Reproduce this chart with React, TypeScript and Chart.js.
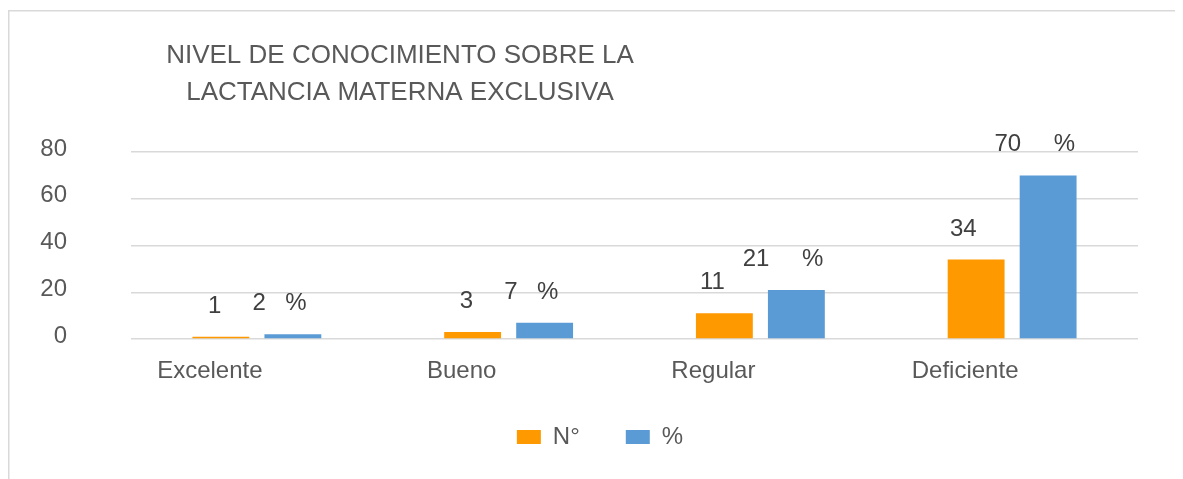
import React, { useEffect, useRef } from 'react';
import { Chart, registerables } from 'chart.js';

Chart.register(...registerables);

const categories = ['Excelente', 'Bueno', 'Regular', 'Deficiente'];
const countValues = [1, 3, 11, 34];
const percentValues = [2, 7, 21, 70];
const seriesNames = ['N°', '%'];
const seriesColors = ['#FF9900', '#5B9BD5'];
const titleLines = ['NIVEL DE CONOCIMIENTO SOBRE LA', 'LACTANCIA MATERNA EXCLUSIVA'];
const yMin = 0;
const yMax = 80;
const yStep = 20;

const FONT = '"Liberation Sans", Arial, Helvetica, sans-serif';
const TEXT_GRAY = '#595959';
const LABEL_DARK = '#404040';
const GRID = '#d9d9d9';

const framePlugin = {
  id: 'frame',
  beforeDraw(chart: any) {
    const ctx = chart.ctx;
    ctx.save();
    ctx.strokeStyle = GRID;
    ctx.lineWidth = 1.5;
    ctx.strokeRect(0.75, 2.75, chart.width + 50, chart.height + 50);
    ctx.restore();
  },
};

const titlePlugin = {
  id: 'customTitle',
  afterDraw(chart: any) {
    const ctx = chart.ctx;
    ctx.save();
    ctx.font = `26px ${FONT}`;
    ctx.fillStyle = TEXT_GRAY;
    ctx.textAlign = 'center';
    ctx.textBaseline = 'alphabetic';
    const cx = 392;
    ctx.fillText(titleLines[0], cx, 54.5);
    ctx.fillText(titleLines[1], cx, 92);
    ctx.restore();
  },
};

const dataLabelPlugin = {
  id: 'dataLabels',
  afterDatasetsDraw(chart: any) {
    const ctx = chart.ctx;
    ctx.save();
    ctx.font = `24px ${FONT}`;
    ctx.fillStyle = LABEL_DARK;
    ctx.textBaseline = 'alphabetic';
    const m0 = chart.getDatasetMeta(0);
    const m1 = chart.getDatasetMeta(1);
    m0.data.forEach((bar: any, i: number) => {
      ctx.textAlign = 'right';
      ctx.fillText(String(countValues[i]), bar.x + 0.5, bar.y - 24);
    });
    m1.data.forEach((bar: any, i: number) => {
      const num = String(percentValues[i]);
      const w = ctx.measureText(num).width;
      ctx.textAlign = 'right';
      ctx.fillText(num, bar.x - 27, bar.y - 24);
      ctx.textAlign = 'left';
      ctx.fillText('%', bar.x - 21 + w, bar.y - 24);
    });
    ctx.restore();
  },
};

export default function App() {
  const canvasRef = useRef<HTMLCanvasElement | null>(null);

  useEffect(() => {
    document.body.style.overflow = 'hidden';
    const canvas = canvasRef.current;
    if (!canvas) return;
    const chart = new Chart(canvas, {
      type: 'bar',
      data: {
        labels: categories,
        datasets: [
          {
            label: seriesNames[0],
            data: countValues,
            backgroundColor: seriesColors[0],
            categoryPercentage: 0.572,
            barPercentage: 0.79,
            yAxisID: 'y',
          },
          {
            label: seriesNames[1],
            data: percentValues,
            backgroundColor: seriesColors[1],
            categoryPercentage: 0.572,
            barPercentage: 0.79,
            yAxisID: 'y',
          },
        ],
      },
      options: {
        animation: false,
        responsive: false,
        maintainAspectRatio: false,
        devicePixelRatio: 1,
        layout: { padding: { left: 9, right: 0, top: 144, bottom: 20 } },
        plugins: {
          title: { display: false },
          tooltip: { enabled: false },
          legend: {
            display: true,
            position: 'bottom',
            labels: {
              boxWidth: 24,
              boxHeight: 14,
              padding: 46,
              color: TEXT_GRAY,
              font: { family: FONT, size: 24 },
            },
          },
        },
        scales: {
          x: {
            grid: { display: false },
            border: { display: false },
            ticks: {
              color: TEXT_GRAY,
              font: { family: FONT, size: 24 },
              mirror: true,
              padding: -47,
              labelOffset: -47,
              maxRotation: 0,
              autoSkip: false,
            },
            afterFit: (s: any) => {
              s.height = 40;
            },
          },
          y: {
            min: yMin,
            max: yMax,
            grid: { color: GRID, lineWidth: 1.5, drawTicks: false },
            border: { display: false },
            ticks: {
              stepSize: yStep,
              color: TEXT_GRAY,
              font: { family: FONT, size: 24 },
              padding: 64,
              labelOffset: -3,
            },
            afterFit: (s: any) => {
              s.width = 114;
            },
          },
          y1: {
            position: 'right',
            display: true,
            grid: { display: false, drawTicks: false },
            border: { display: false },
            ticks: { display: false },
            afterFit: (s: any) => {
              s.width = 45;
            },
          },
        },
      },
      plugins: [framePlugin, titlePlugin, dataLabelPlugin],
    } as any);
    return () => chart.destroy();
  }, []);

  return (
    <div style={{ width: 1175, height: 471 }}>
      <canvas ref={canvasRef} width={1175} height={471} style={{ display: 'block', width: 1175, height: 471 }} />
    </div>
  );
}
